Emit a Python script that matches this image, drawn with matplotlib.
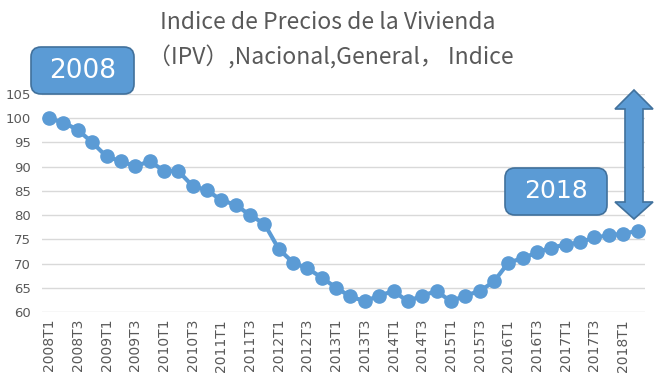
import numpy as np
import matplotlib
matplotlib.use("Agg")
import matplotlib.pyplot as plt
from matplotlib.patches import FancyBboxPatch, Polygon

# Quarterly housing price index, 2008T1 .. 2018T2
years = list(range(2008, 2019))
quarters = [f"{y}T{q}" for y in years for q in (1, 2, 3, 4)][:42]
ipv = [100.0, 99.1, 97.6, 95.0, 92.1, 91.1, 90.1, 91.1, 89.2, 89.1,
       86.0, 85.1, 83.1, 82.1, 80.0, 78.2, 73.0, 70.2, 69.0, 67.1,
       65.0, 63.2, 62.2, 63.4, 64.3, 62.2, 63.4, 64.3, 62.2, 63.4,
       64.3, 66.3, 70.2, 71.1, 72.3, 73.3, 73.9, 74.4, 75.4, 75.8,
       76.2, 76.7]
yticks = [60, 65, 70, 75, 80, 85, 90, 95, 100, 105]

BLUE = "#5B9BD5"
EDGE = "#41719C"
GREY_TXT = "#595959"
cjk = ["Noto Sans CJK SC", "DejaVu Sans"]

fig = plt.figure(figsize=(6.66, 3.9), dpi=100)
ax = fig.add_axes([0.063, 0.2, 0.905, 0.559])

x = np.arange(len(ipv))
ax.plot(x, ipv, color=BLUE, lw=3, marker="o", ms=9.5, zorder=3)

ax.set_xlim(-0.5, len(ipv) - 0.5)
ax.set_ylim(60, 105)
ax.set_yticks(yticks)
ax.set_xticks(x[::2])
ax.set_xticklabels(quarters[::2], rotation=90, fontsize=10, color=GREY_TXT)
ax.tick_params(axis="y", labelsize=9.5, labelcolor=GREY_TXT, length=0, pad=8)
ax.tick_params(axis="x", length=0, pad=5)
ax.grid(axis="y", color="#D9D9D9", lw=1)
for s in ax.spines.values():
    s.set_visible(False)

fig.text(0.492, 0.942, "Indice de Precios de la Vivienda", ha="center", va="center",
         fontsize=16.5, color=GREY_TXT, family=cjk)
fig.text(0.497, 0.852, "（IPV）,Nacional,General， Indice", ha="center", va="center",
         fontsize=16.5, color=GREY_TXT, family=cjk)

# callout boxes (pixel coords)
def box(x0, y0, x1, y1, label, fs):
    W, H = 666, 390
    p = FancyBboxPatch((x0 / W, 1 - y1 / H), (x1 - x0) / W, (y1 - y0) / H,
                       boxstyle="round,pad=0,rounding_size=0.015",
                       transform=fig.transFigure, fc=BLUE, ec=EDGE, lw=1.2,
                       mutation_aspect=W / H, zorder=5)
    fig.add_artist(p)
    fig.text((x0 + x1) / 2 / W, 1 - (y0 + y1) / 2 / H, label, ha="center", va="center",
             fontsize=fs, color="white", zorder=6)

box(31, 47, 134, 94, "2008", 19)
box(505, 168, 607, 215, "2018", 18)

# double-headed arrow
W, H = 666, 390
cx = 634
pts = [(cx, 90), (653, 109), (643, 109), (643, 202), (653, 202), (cx, 219),
       (615, 202), (625, 202), (625, 109), (615, 109)]
arrow = Polygon([(px / W, 1 - py / H) for px, py in pts], closed=True,
                transform=fig.transFigure, fc=BLUE, ec=EDGE, lw=1.2, zorder=5)
fig.add_artist(arrow)

fig.savefig("out.png", dpi=100, facecolor="white")
